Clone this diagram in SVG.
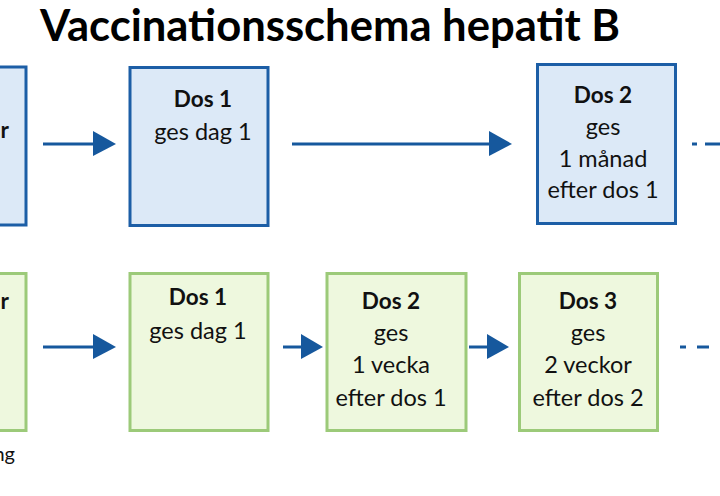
<svg xmlns="http://www.w3.org/2000/svg" width="720" height="496" viewBox="0 0 720 496">
<defs>
<style>
.t{font-family:Lato,"Open Sans","DejaVu Sans",sans-serif;fill:#111;font-size:23.5px;text-anchor:middle}
.b{font-weight:bold;font-size:22.5px}
.blue{fill:#dce9f7;stroke:#1c5ea6;stroke-width:3}
.green{fill:#eef8de;stroke:#9cca79;stroke-width:3}
.ln{stroke:#16589d;stroke-width:3;fill:none}
.hd{fill:#16589d}
</style>
</defs>
<rect width="720" height="496" fill="#fff"/>
<text x="40" y="41" style="font-family:Lato,'Open Sans',sans-serif;font-weight:bold;font-size:43px;fill:#000" textLength="580" lengthAdjust="spacingAndGlyphs">Vaccinationsschema hepatit B</text>

<g id="top-left">
<rect class="blue" x="-10" y="67" width="36" height="158"/>
<text class="t b" x="9" y="138" style="text-anchor:end">r</text>
</g>
<g id="top-dos1">
<rect class="blue" x="130" y="67.5" width="138" height="158"/>
<text class="t b" x="203" y="107">Dos 1</text>
<text class="t" x="203" y="140">ges dag 1</text>
</g>
<g id="top-dos2">
<rect class="blue" x="537.5" y="64.5" width="138" height="159"/>
<text class="t b" x="603" y="103">Dos 2</text>
<text class="t" x="603" y="135">ges</text>
<text class="t" x="603" y="167">1 månad</text>
<text class="t" x="603" y="198">efter dos 1</text>
</g>

<g id="bottom-left">
<rect class="green" x="-10" y="273.5" width="36" height="157"/>
<text class="t b" x="9" y="309" style="text-anchor:end">r</text>
<text class="t" x="15" y="461" style="text-anchor:end;font-size:20px">ng</text>
</g>
<g id="bottom-dos1">
<rect class="green" x="130" y="273.5" width="138" height="157"/>
<text class="t b" x="198" y="305">Dos 1</text>
<text class="t" x="198" y="339">ges dag 1</text>
</g>
<g id="bottom-dos2">
<rect class="green" x="327" y="273.5" width="139" height="157"/>
<text class="t b" x="391" y="309">Dos 2</text>
<text class="t" x="391" y="341">ges</text>
<text class="t" x="391" y="373">1 vecka</text>
<text class="t" x="391" y="406">efter dos 1</text>
</g>
<g id="bottom-dos3">
<rect class="green" x="519.5" y="273.5" width="138" height="157"/>
<text class="t b" x="588" y="309">Dos 3</text>
<text class="t" x="588" y="341">ges</text>
<text class="t" x="588" y="373">2 veckor</text>
<text class="t" x="588" y="406">efter dos 2</text>
</g>

<g id="connectors">
<line class="ln" x1="43" y1="144" x2="96" y2="144"/>
<polygon class="hd" points="93,131 116,144 93,156"/>
<line class="ln" x1="292" y1="144" x2="492" y2="144"/>
<polygon class="hd" points="489,131 512,144 489,156"/>
<line class="ln" x1="692" y1="144" x2="697" y2="144"/>
<line class="ln" x1="705" y1="144" x2="720" y2="144"/>

<line class="ln" x1="43" y1="347" x2="96" y2="347"/>
<polygon class="hd" points="93,334 116,347 93,359"/>
<line class="ln" x1="283" y1="347" x2="304" y2="347"/>
<polygon class="hd" points="301,334 323,347 301,359"/>
<line class="ln" x1="469" y1="347" x2="490" y2="347"/>
<polygon class="hd" points="487,334 509,347 487,359"/>
<line class="ln" x1="680" y1="347" x2="686" y2="347"/>
<line class="ln" x1="697" y1="347" x2="709" y2="347"/>
</g>
</svg>
